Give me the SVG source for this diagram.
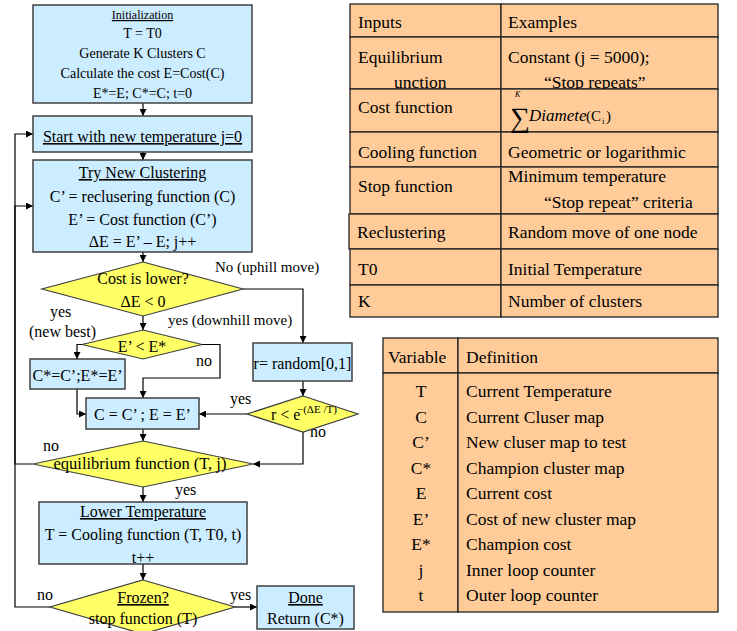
<svg xmlns="http://www.w3.org/2000/svg" width="737" height="631" viewBox="0 0 737 631" font-family="Liberation Serif, DejaVu Serif, serif">
<style>
text{font-family:"Liberation Serif","DejaVu Serif",serif;fill:#000}
.box{fill:#CCECFF;stroke:#404040;stroke-width:1.5}
.dia{fill:#FFFF66;stroke:#404040;stroke-width:1.2}
.cell{fill:#FFCC99;stroke:#222;stroke-width:1.3}
.c{text-anchor:middle}
.u{text-decoration:underline}
.ln{fill:none;stroke:#000;stroke-width:1.2}
.f14{font-size:14px}
.f16{font-size:16px}
.f15{font-size:15px}
.t{font-size:17.5px}
</style>
<defs>
<marker id="ah" viewBox="0 0 10 10" refX="10" refY="5" markerWidth="7" markerHeight="7" markerUnits="userSpaceOnUse" orient="auto">
<path d="M0,0 L10,5 L0,10 z" fill="#000"/>
</marker>
<clipPath id="row2"><rect x="350" y="37" width="368" height="52"/></clipPath>
</defs>

<g id="connectors">
<path class="ln" d="M143,103 V116" marker-end="url(#ah)"/>
<path class="ln" d="M143,152 V160" marker-end="url(#ah)"/>
<path class="ln" d="M143,252 V262" marker-end="url(#ah)"/>
<path class="ln" d="M243,289 H303 V343" marker-end="url(#ah)"/>
<path class="ln" d="M143,316 V330" marker-end="url(#ah)"/>
<path class="ln" d="M82,344.5 H77 V359" marker-end="url(#ah)"/>
<path class="ln" d="M202,344.5 H220 V378 H143 V398" marker-end="url(#ah)"/>
<path class="ln" d="M77,389 V414 H86" marker-end="url(#ah)"/>
<path class="ln" d="M247,414 H199" marker-end="url(#ah)"/>
<path class="ln" d="M303,381 V396" marker-end="url(#ah)"/>
<path class="ln" d="M303,432 V464 H253" marker-end="url(#ah)"/>
<path class="ln" d="M143,429 V441" marker-end="url(#ah)"/>
<path class="ln" d="M33,464 H15 V206 H33" marker-end="url(#ah)"/>
<path class="ln" d="M143,487 V502" marker-end="url(#ah)"/>
<path class="ln" d="M143,564 V580" marker-end="url(#ah)"/>
<path class="ln" d="M50,607 H15 V134 H33" marker-end="url(#ah)"/>
<path class="ln" d="M235,607 H257" marker-end="url(#ah)"/>
</g>

<g id="labels">
<text class="f15" x="215" y="272">No (uphill move)</text>
<text class="f16" x="50" y="317">yes</text>
<text class="f16" x="29" y="337">(new best)</text>
<text class="f15" x="168" y="325">yes (downhill move)</text>
<text class="f16" x="196" y="366">no</text>
<text class="f16" x="230" y="404">yes</text>
<text class="f16" x="310" y="437">no</text>
<text class="f16" x="43" y="451">no</text>
<text class="f16" x="175" y="495">yes</text>
<text class="f16" x="37" y="600">no</text>
<text class="f16" x="230" y="600">yes</text>
</g>

<g id="init">
<rect class="box" x="33" y="5" width="219" height="98"/>
<text class="c u" x="142.5" y="19" font-size="12">Initialization</text>
<text class="c f14" x="142.5" y="38">T = T0</text>
<text class="c f14" x="142.5" y="58">Generate K Clusters C</text>
<text class="c f14" x="142.5" y="78">Calculate the cost E=Cost(C)</text>
<text class="c f14" x="142.5" y="98">E*=E; C*=C; t=0</text>
</g>

<g id="start">
<rect class="box" x="33" y="116" width="219" height="36"/>
<text class="c u f16" x="142.5" y="142">Start with new temperature j=0</text>
</g>

<g id="try">
<rect class="box" x="33" y="160" width="219" height="92"/>
<text class="c u f16" x="142.5" y="178">Try New Clustering</text>
<text class="c f16" x="142.5" y="202">C’ = reclusering function (C)</text>
<text class="c f16" x="142.5" y="225">E’ = Cost function (C’)</text>
<text class="c f16" x="142.5" y="247">ΔE = E’ – E; j++</text>
</g>

<g id="costlower">
<polygon class="dia" points="143,262 243,289 143,316 42,289"/>
<text class="c f16" x="143" y="284">Cost is lower?</text>
<text class="c f16" x="143" y="307">ΔE &lt; 0</text>
</g>

<g id="newbest">
<polygon class="dia" points="143,330 202,344.5 143,359 82,344.5"/>
<text class="c f16" x="142" y="352">E’ &lt; E*</text>
</g>

<g id="champion">
<rect class="box" x="30" y="359" width="95" height="30"/>
<text class="c f16" x="77.5" y="381">C*=C’;E*=E’</text>
</g>

<g id="accept">
<rect class="box" x="86" y="398" width="113" height="31"/>
<text class="c f16" x="142.5" y="420">C = C’ ; E = E’</text>
</g>

<g id="random">
<rect class="box" x="253" y="343" width="99" height="38"/>
<text class="c f16" x="302.5" y="369">r= random[0,1]</text>
</g>

<g id="metropolis">
<polygon class="dia" points="303,396 358,414 303,432 247,414"/>
<text class="f16" x="271" y="420">r &lt; e</text>
<text x="297" y="413" font-size="11">−(ΔE /T)</text>
</g>

<g id="equilibrium">
<polygon class="dia" points="143,441 253,464 143,487 33,464"/>
<text class="c" x="140" y="469" font-size="16.5">equilibrium function (T, j)</text>
</g>

<g id="lower">
<rect class="box" x="39" y="502" width="208" height="62"/>
<text class="c u f16" x="143" y="517">Lower Temperature</text>
<text class="c f16" x="143" y="540">T = Cooling function (T, T0, t)</text>
<text class="c f16" x="143" y="563">t++</text>
</g>

<g id="frozen">
<polygon class="dia" points="143,580 235,607 143,634 50,607"/>
<text class="c u f16" x="143" y="603">Frozen?</text>
<text class="c f16" x="143" y="624">stop function (T)</text>
</g>

<g id="done">
<rect class="box" x="257" y="586" width="97" height="43"/>
<text class="c u f16" x="305.5" y="603">Done</text>
<text class="c f16" x="305.5" y="624">Return (C*)</text>
</g>

<g id="inputs-table">
<rect class="cell" x="350" y="4" width="151" height="33"/>
<rect class="cell" x="501" y="4" width="217" height="33"/>
<rect class="cell" x="350" y="37" width="151" height="52"/>
<rect class="cell" x="501" y="37" width="217" height="52"/>
<rect class="cell" x="350" y="89" width="151" height="43"/>
<rect class="cell" x="501" y="89" width="217" height="43"/>
<rect class="cell" x="350" y="132" width="151" height="35"/>
<rect class="cell" x="501" y="132" width="217" height="35"/>
<rect class="cell" x="350" y="167" width="151" height="47"/>
<rect class="cell" x="501" y="167" width="217" height="47"/>
<rect class="cell" x="349" y="214" width="152" height="35"/>
<rect class="cell" x="501" y="214" width="217" height="35"/>
<rect class="cell" x="350" y="249" width="151" height="36"/>
<rect class="cell" x="501" y="249" width="217" height="36"/>
<rect class="cell" x="350" y="285" width="151" height="32"/>
<rect class="cell" x="501" y="285" width="217" height="32"/>
<text class="t" x="358" y="28">Inputs</text>
<text class="t" x="508" y="28">Examples</text>
<g clip-path="url(#row2)">
<text class="t" x="358" y="63">Equilibrium</text>
<text class="t" x="394" y="88">unction</text>
<text class="t" x="508" y="63">Constant (j = 5000);</text>
<text class="t" x="544" y="88">“Stop repeats”</text>
</g>
<text class="t" x="358" y="113">Cost function</text>
<text x="510" y="127" font-size="28">∑</text>
<text x="515" y="97" font-size="8" font-style="italic">K</text>
<text x="529" y="121" font-size="17" font-style="italic">Diamete</text>
<text x="586" y="121" font-size="15">(C</text>
<text x="602" y="124" font-size="9">i</text>
<text x="606" y="121" font-size="15">)</text>
<text class="t" x="358" y="158">Cooling function</text>
<text class="t" x="508" y="158">Geometric or logarithmic</text>
<text class="t" x="358" y="192">Stop function</text>
<text class="t" x="508" y="182">Minimum temperature</text>
<text class="t" x="544" y="208">“Stop repeat” criteria</text>
<text class="t" x="357" y="238">Reclustering</text>
<text class="t" x="508" y="238">Random move of one node</text>
<text class="t" x="358" y="275">T0</text>
<text class="t" x="508" y="275">Initial Temperature</text>
<text class="t" x="358" y="307">K</text>
<text class="t" x="508" y="307">Number of clusters</text>
</g>

<g id="variables-table">
<rect class="cell" x="383" y="338" width="75" height="35"/>
<rect class="cell" x="458" y="338" width="260" height="35"/>
<rect class="cell" x="383" y="373" width="75" height="239"/>
<rect class="cell" x="458" y="373" width="260" height="239"/>
<text class="t" x="388" y="363">Variable</text>
<text class="t" x="466" y="363">Definition</text>
<text class="t c" x="421" y="397">T</text>
<text class="t c" x="421" y="422.5">C</text>
<text class="t c" x="421" y="448">C’</text>
<text class="t c" x="421" y="473.5">C*</text>
<text class="t c" x="421" y="499">E</text>
<text class="t c" x="421" y="524.5">E’</text>
<text class="t c" x="421" y="550">E*</text>
<text class="t c" x="421" y="575.5">j</text>
<text class="t c" x="421" y="601">t</text>
<text class="t" x="466" y="397">Current Temperature</text>
<text class="t" x="466" y="422.5">Current Cluser map</text>
<text class="t" x="466" y="448">New cluser map to test</text>
<text class="t" x="466" y="473.5">Champion cluster map</text>
<text class="t" x="466" y="499">Current cost</text>
<text class="t" x="466" y="524.5">Cost of new cluster map</text>
<text class="t" x="466" y="550">Champion cost</text>
<text class="t" x="466" y="575.5">Inner loop counter</text>
<text class="t" x="466" y="601">Outer loop counter</text>
</g>
</svg>
